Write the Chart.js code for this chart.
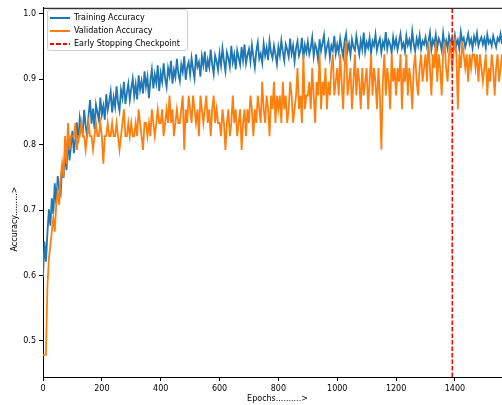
<!DOCTYPE html>
<html>
<head>
<meta charset="utf-8">
<script src="https://cdn.jsdelivr.net/npm/chart.js@4.4.1/dist/chart.umd.min.js"></script>
<style>
  html, body { margin: 0; padding: 0; background: #fff; }
  #wrap { position: relative; width: 502px; height: 405px; overflow: hidden; }
  #chart { position: absolute; left: 0; top: 0; }
  #legend {
    position: absolute; left: 47px; top: 9px; width: 139px; height: 40px;
    border: 1px solid #d0d0d0; border-radius: 3px; background: rgba(255,255,255,0.8);
    font: 8px "DejaVu Sans", sans-serif; color: #000;
  }
  .row { position: absolute; left: 0; height: 10px; line-height: 10px; white-space: nowrap; }
  .row .ln { position: absolute; left: 2px; top: 4px; width: 20px; height: 2px; }
  .row span { position: absolute; left: 26px; top: 0; }
</style>
</head>
<body>
<div id="wrap">
  <canvas id="chart" width="512" height="405"></canvas>
  <div id="legend">
    <div class="row" style="top:3px"><div class="ln" style="background:#1f77b4"></div><span>Training Accuracy</span></div>
    <div class="row" style="top:16px"><div class="ln" style="background:#ff7f0e"></div><span>Validation Accuracy</span></div>
    <div class="row" style="top:29px"><div class="ln" style="background:repeating-linear-gradient(90deg,#ff0000 0 4.5px,transparent 4.5px 6.5px)"></div><span>Early Stopping Checkpoint</span></div>
  </div>
</div>
<script>
// accuracy, one value every STEP epochs
const STEP = 5;
const STOP_EPOCH = 1391;

const trainAcc = [
  0.598, 0.652, 0.621, 0.664, 0.701, 0.676, 0.718, 0.694, 0.741, 0.709, 0.752, 0.731, 0.724, 0.768, 0.749, 0.789, 0.761, 0.812, 0.776, 0.798,
  0.821, 0.787, 0.809, 0.834, 0.802, 0.841, 0.826, 0.817, 0.853, 0.829, 0.811, 0.846, 0.868, 0.832, 0.855, 0.824, 0.861, 0.849, 0.837, 0.872,
  0.846, 0.859, 0.838, 0.877, 0.853, 0.866, 0.881, 0.849, 0.872, 0.858, 0.889, 0.864, 0.852, 0.884, 0.871, 0.896, 0.862, 0.879, 0.893, 0.868,
  0.886, 0.901, 0.874, 0.892, 0.869, 0.906, 0.884, 0.897, 0.878, 0.912, 0.889, 0.903, 0.871, 0.898, 0.915, 0.886, 0.907, 0.894, 0.921, 0.882,
  0.909, 0.896, 0.924, 0.901, 0.888, 0.917, 0.905, 0.928, 0.893, 0.914, 0.903, 0.931, 0.908, 0.897, 0.922, 0.911, 0.935, 0.899, 0.918, 0.926,
  0.907, 0.932, 0.915, 0.901, 0.938, 0.919, 0.926, 0.904, 0.935, 0.921, 0.942, 0.911, 0.929, 0.918, 0.945, 0.923, 0.908, 0.936, 0.927, 0.914,
  0.939, 0.921, 0.947, 0.928, 0.912, 0.941, 0.932, 0.919, 0.951, 0.926, 0.938, 0.915, 0.944, 0.933, 0.922, 0.949, 0.929, 0.953, 0.924, 0.937,
  0.946, 0.927, 0.952, 0.934, 0.918, 0.943, 0.956, 0.931, 0.939, 0.925, 0.954, 0.936, 0.948, 0.929, 0.958, 0.941, 0.932, 0.951, 0.938, 0.923,
  0.949, 0.936, 0.959, 0.942, 0.928, 0.953, 0.945, 0.934, 0.962, 0.939, 0.951, 0.927, 0.947, 0.958, 0.936, 0.944, 0.963, 0.931, 0.952, 0.941,
  0.957, 0.938, 0.948, 0.964, 0.935, 0.953, 0.946, 0.929, 0.961, 0.943, 0.955, 0.967, 0.937, 0.949, 0.958, 0.933, 0.951, 0.944, 0.966, 0.939,
  0.953, 0.941, 0.962, 0.947, 0.935, 0.958, 0.969, 0.943, 0.954, 0.937, 0.961, 0.949, 0.944, 0.966, 0.951, 0.938, 0.959, 0.946, 0.971, 0.942,
  0.956, 0.948, 0.963, 0.939, 0.958, 0.951, 0.968, 0.944, 0.955, 0.962, 0.941, 0.957, 0.949, 0.972, 0.946, 0.959, 0.953, 0.940, 0.964, 0.950,
  0.961, 0.945, 0.957, 0.969, 0.948, 0.955, 0.942, 0.966, 0.952, 0.960, 0.947, 0.973, 0.954, 0.943, 0.962, 0.951, 0.967, 0.946, 0.958, 0.953,
  0.964, 0.949, 0.957, 0.971, 0.945, 0.960, 0.953, 0.968, 0.948, 0.962, 0.956, 0.944, 0.970, 0.951, 0.959, 0.947, 0.966, 0.955, 0.961, 0.950,
  0.967, 0.952, 0.960, 0.946, 0.972, 0.957, 0.963, 0.949, 0.958, 0.969, 0.954, 0.961, 0.947, 0.965, 0.956, 0.970, 0.951, 0.959, 0.964, 0.953,
  0.962, 0.948, 0.968, 0.955, 0.960, 0.951, 0.966, 0.957, 0.949, 0.963, 0.958, 0.969, 0.954
];

const valAcc = [
  0.479, 0.479, 0.479, 0.583, 0.625, 0.646, 0.667, 0.688, 0.667, 0.708, 0.729, 0.708, 0.750, 0.771, 0.750, 0.813, 0.771, 0.833, 0.792, 0.813,
  0.813, 0.813, 0.833, 0.792, 0.813, 0.813, 0.833, 0.813, 0.813, 0.792, 0.813, 0.833, 0.813, 0.813, 0.792, 0.813, 0.833, 0.813, 0.813, 0.833,
  0.813, 0.771, 0.813, 0.813, 0.833, 0.813, 0.813, 0.833, 0.813, 0.813, 0.833, 0.813, 0.792, 0.813, 0.833, 0.854, 0.813, 0.813, 0.833, 0.813,
  0.833, 0.813, 0.813, 0.833, 0.813, 0.854, 0.833, 0.813, 0.792, 0.833, 0.833, 0.813, 0.833, 0.813, 0.854, 0.833, 0.813, 0.833, 0.854, 0.833,
  0.833, 0.854, 0.813, 0.833, 0.854, 0.833, 0.875, 0.833, 0.854, 0.813, 0.833, 0.854, 0.833, 0.833, 0.854, 0.875, 0.792, 0.854, 0.833, 0.875,
  0.854, 0.833, 0.875, 0.854, 0.833, 0.854, 0.813, 0.875, 0.854, 0.833, 0.854, 0.875, 0.833, 0.854, 0.813, 0.854, 0.875, 0.833, 0.854, 0.833,
  0.833, 0.813, 0.854, 0.833, 0.792, 0.833, 0.854, 0.813, 0.833, 0.875, 0.833, 0.854, 0.813, 0.833, 0.854, 0.792, 0.833, 0.854, 0.813, 0.854,
  0.833, 0.875, 0.854, 0.813, 0.854, 0.833, 0.875, 0.854, 0.833, 0.896, 0.854, 0.833, 0.875, 0.854, 0.813, 0.875, 0.854, 0.896, 0.833, 0.875,
  0.854, 0.875, 0.833, 0.896, 0.854, 0.875, 0.833, 0.854, 0.896, 0.875, 0.833, 0.854, 0.875, 0.917, 0.854, 0.875, 0.833, 0.938, 0.854, 0.875,
  0.875, 0.896, 0.854, 0.917, 0.875, 0.833, 0.896, 0.875, 0.938, 0.854, 0.896, 0.875, 0.917, 0.854, 0.896, 0.875, 0.917, 0.938, 0.875, 0.896,
  0.917, 0.875, 0.938, 0.896, 0.854, 0.917, 0.958, 0.875, 0.896, 0.917, 0.854, 0.896, 0.938, 0.875, 0.917, 0.896, 0.854, 0.917, 0.875, 0.896,
  0.917, 0.854, 0.896, 0.938, 0.875, 0.917, 0.896, 0.854, 0.917, 0.875, 0.792, 0.896, 0.938, 0.875, 0.917, 0.896, 0.854, 0.938, 0.896, 0.917,
  0.875, 0.917, 0.896, 0.938, 0.854, 0.917, 0.896, 0.938, 0.875, 0.917, 0.896, 0.854, 0.917, 0.938, 0.896, 0.875, 0.917, 0.938, 0.896, 0.917,
  0.938, 0.896, 0.958, 0.917, 0.875, 0.938, 0.917, 0.958, 0.896, 0.938, 0.917, 0.875, 0.938, 0.958, 0.917, 0.896, 0.938, 0.958, 0.917, 0.938,
  0.958, 0.938, 0.854, 0.938, 0.917, 0.958, 0.938, 0.917, 0.938, 0.896, 0.938, 0.917, 0.938, 0.938, 0.917, 0.938, 0.896, 0.938, 0.917, 0.896,
  0.917, 0.938, 0.875, 0.917, 0.896, 0.938, 0.917, 0.875, 0.917, 0.938, 0.896, 0.917, 0.938
];

const xTicks = [0, 200, 400, 600, 800, 1000, 1200, 1400];
const yTicks = [0.5, 0.6, 0.7, 0.8, 0.9, 1.0];

const X_MAX = 1594;
const Y_MIN = 0.445;
const Y_MAX = 1.009;
const Y_TITLE = 'Accuracy.........>';

const epochs = trainAcc.map((_, i) => i * STEP);
const trainPts = epochs.map((e, i) => ({ x: e, y: trainAcc[i] }));
const valPts = epochs.map((e, i) => ({ x: e, y: valAcc[i] }));

const FONT = { family: 'DejaVu Sans', size: 8 };

// top spine + y label (matplotlib puts it a bit below the axis centre here)
const frameExtras = {
  id: 'frameExtras',
  afterDraw(chart) {
    const { ctx, chartArea } = chart;
    ctx.save();
    ctx.strokeStyle = '#000';
    ctx.lineWidth = 1;
    ctx.beginPath();
    ctx.moveTo(chartArea.left, chartArea.top + 0.5);
    ctx.lineTo(chartArea.right, chartArea.top + 0.5);
    ctx.stroke();

    ctx.translate(15, 219);
    ctx.rotate(-Math.PI / 2);
    ctx.font = '8px "DejaVu Sans"';
    ctx.fillStyle = '#000';
    ctx.textAlign = 'center';
    ctx.textBaseline = 'middle';
    ctx.fillText(Y_TITLE, 0, 0);
    ctx.restore();
  }
};

new Chart(document.getElementById('chart'), {
  type: 'line',
  data: {
    datasets: [
      {
        label: 'Early Stopping Checkpoint',
        data: [{ x: STOP_EPOCH, y: Y_MIN }, { x: STOP_EPOCH, y: Y_MAX }],
        borderColor: '#ff0000',
        borderDash: [4.5, 2],
        borderWidth: 1.5,
        pointRadius: 0,
        order: 1
      },
      {
        label: 'Validation Accuracy',
        data: valPts,
        borderColor: '#ff7f0e',
        borderWidth: 1.8,
        pointRadius: 0,
        order: 2
      },
      {
        label: 'Training Accuracy',
        data: trainPts,
        borderColor: '#1f77b4',
        borderWidth: 1.8,
        pointRadius: 0,
        order: 3
      }
    ]
  },
  options: {
    responsive: false,
    animation: false,
    layout: { padding: { top: 6, left: 0, right: 0, bottom: 0 } },
    plugins: { legend: { display: false }, tooltip: { enabled: false } },
    scales: {
      x: {
        type: 'linear',
        min: 0,
        max: X_MAX,
        afterBuildTicks: s => { s.ticks = xTicks.map(v => ({ value: v })); },
        afterFit: s => { s.height = 28; },
        grid: { drawOnChartArea: false, drawTicks: true, tickLength: 4, color: '#000' },
        border: { color: '#000', width: 1 },
        ticks: { font: FONT, color: '#000', padding: 3, maxRotation: 0, callback: v => String(v) },
        title: { display: true, text: 'Epochs..........>', font: FONT, color: '#000', padding: { top: 0, bottom: 1 } }
      },
      y: {
        min: Y_MIN,
        max: Y_MAX,
        afterBuildTicks: s => { s.ticks = yTicks.map(v => ({ value: v })); },
        afterFit: s => { s.width = 43; },
        grid: { drawOnChartArea: false, drawTicks: true, tickLength: 4, color: '#000' },
        border: { color: '#000', width: 1 },
        ticks: { font: FONT, color: '#000', padding: 3, callback: v => v.toFixed(1) },
        title: { display: false }
      }
    }
  },
  plugins: [frameExtras]
});
</script>
</body>
</html>
